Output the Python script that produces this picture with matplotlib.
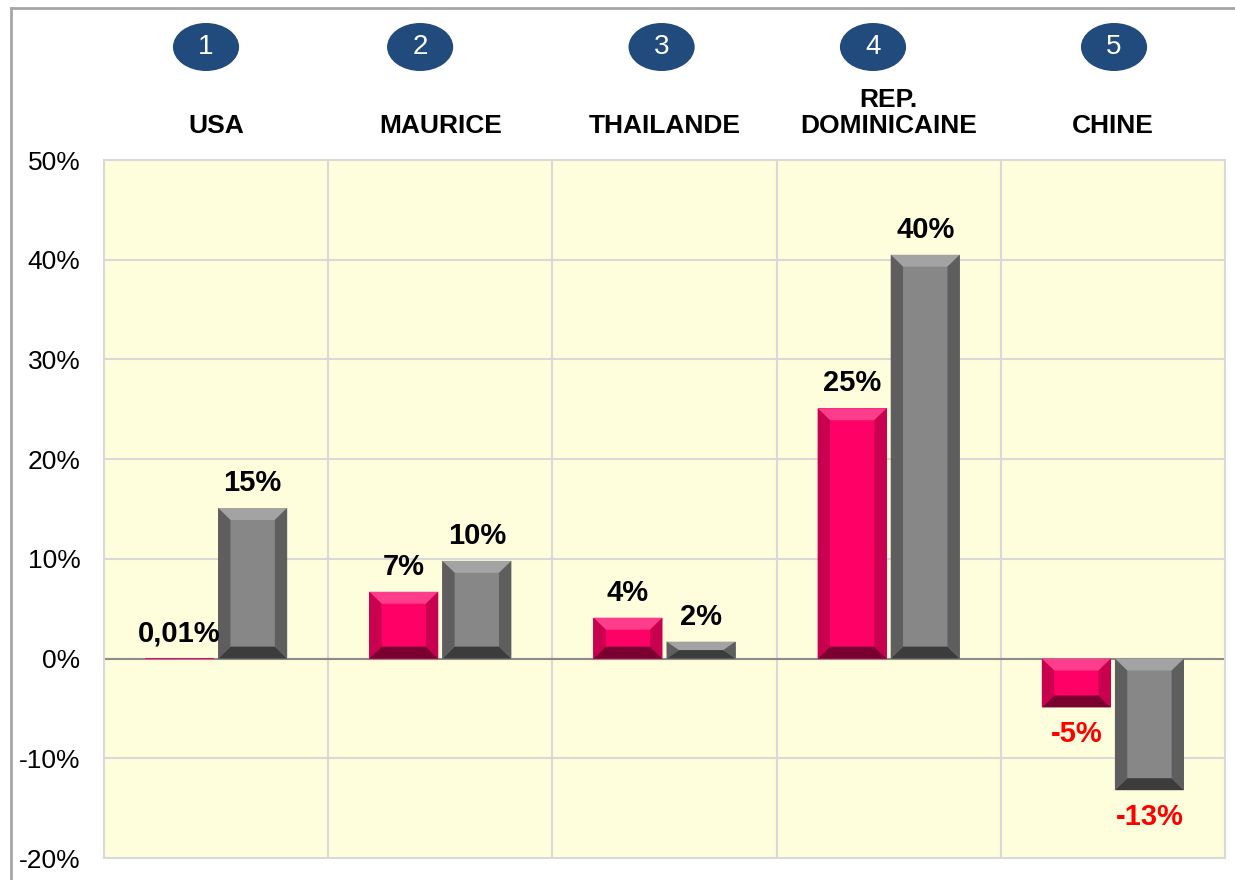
#!/usr/bin/env python3

import numpy as np
from matplotlib import pyplot as plt
from matplotlib.patches import Polygon, Ellipse
from matplotlib.transforms import blended_transform_factory
from matplotlib.ticker import FuncFormatter

plt.rcParams['font.family'] = ['Liberation Sans', 'DejaVu Sans']

# data
ranks = ['1', '2', '3', '4', '5']
countries = ['USA', 'MAURICE', 'THAILANDE', 'REP.\nDOMINICAINE', 'CHINE']
serie_pink = [0.01, 6.7, 4.1, 25.1, -4.9]
serie_gray = [15.1, 9.8, 1.7, 40.5, -13.2]
labels_pink = ['0,01%', '7%', '4%', '25%', '-5%']
labels_gray = ['15%', '10%', '2%', '40%', '-13%']

# face, top, bottom, sides
pink_cols = ('#ff0066', '#ff3d8b', '#7a0030', '#c8004f')
gray_cols = ('#878787', '#a3a3a3', '#3c3c3c', '#5e5e5e')

# the rank badges are not exactly centred on their columns
badge_shift = [-0.045, -0.09, -0.013, -0.07, 0.005]


def bevel(ax, bar, cols, bx=0.055, by=1.2):
    x0 = bar.get_x()
    w = bar.get_width()
    lo = min(bar.get_y(), bar.get_y() + bar.get_height())
    hi = max(bar.get_y(), bar.get_y() + bar.get_height())
    bx = min(bx, w / 2)
    by = min(by, (hi - lo) / 2)
    x1 = x0 + w
    polys = [
        ([(x0, hi), (x1, hi), (x1 - bx, hi - by), (x0 + bx, hi - by)], cols[1]),
        ([(x0, lo), (x1, lo), (x1 - bx, lo + by), (x0 + bx, lo + by)], cols[2]),
        ([(x0, lo), (x0 + bx, lo + by), (x0 + bx, hi - by), (x0, hi)], cols[3]),
        ([(x1, lo), (x1 - bx, lo + by), (x1 - bx, hi - by), (x1, hi)], cols[3]),
    ]
    for pts, c in polys:
        ax.add_patch(Polygon(pts, closed=True, facecolor=c, edgecolor='none', zorder=3))


fig = plt.figure(figsize=(12.35, 8.8), dpi=100)
ax = fig.add_axes([104 / 1235, 22 / 880, 1121 / 1235, 698 / 880])
ax.set_facecolor('#fefedc')

x = np.arange(len(countries))
w = 0.308
off = (w + 0.018) / 2
bars_p = ax.bar(x - off, serie_pink, w, color=pink_cols[0], zorder=2)
bars_g = ax.bar(x + off, serie_gray, w, color=gray_cols[0], zorder=2)
for b in bars_p:
    bevel(ax, b, pink_cols)
for b in bars_g:
    bevel(ax, b, gray_cols)

ax.set_xlim(-0.5, len(countries) - 0.5)
ax.set_ylim(-20, 50)
ax.set_yticks(np.arange(-20, 51, 10))
ax.yaxis.set_major_formatter(FuncFormatter(lambda v, p: '%d%%' % v))
ax.tick_params(axis='y', length=0, pad=17, labelsize=19)
ax.set_xticks([])
for v in np.arange(-10, 50, 10):
    ax.axhline(v, color='#d9d9d9', lw=1.5, zorder=0)
for xb in x[:-1] + 0.5:
    ax.axvline(xb, color='#d9d9d9', lw=1.5, zorder=0)
ax.axhline(0, color='#8c8c8c', lw=1.5, zorder=1)
for s in ax.spines.values():
    s.set_color('#d9d9d9')
    s.set_linewidth(1.5)

# value labels
for bars, labs in [(bars_p, labels_pink), (bars_g, labels_gray)]:
    for b, lab in zip(bars, labs):
        h = b.get_height()
        cx = b.get_x() + b.get_width() / 2
        if h >= 0:
            ax.annotate(lab, (cx, h), xytext=(0, 8), textcoords='offset points',
                        ha='center', va='bottom', fontsize=21, fontweight='bold',
                        color='black')
        else:
            ax.annotate(lab, (cx, h), xytext=(0, -9), textcoords='offset points',
                        ha='center', va='top', fontsize=21, fontweight='bold',
                        color='#ff0000')

# headers: numbered ellipses and country names
tr = blended_transform_factory(ax.transData, ax.transAxes)
for i, (r, name) in enumerate(zip(ranks, countries)):
    bxc = i + badge_shift[i]
    ax.add_patch(Ellipse((bxc, 1 + 113 / 698), 0.295, 48 / 698, transform=tr,
                         facecolor='#214a7d', edgecolor='none', clip_on=False))
    ax.text(bxc, 1 + 113 / 698, r, transform=tr, ha='center', va='center',
            color='white', fontsize=20)
    ax.text(i, 1 + 22 / 698, name, transform=tr, ha='center', va='bottom',
            fontsize=19, fontweight='bold', linespacing=1.1)

# outer chart frame
fig.add_artist(plt.Line2D([11 / 1235, 11 / 1235], [0, 1 - 8 / 880],
                          color='#a6a6a6', lw=2, transform=fig.transFigure))
fig.add_artist(plt.Line2D([11 / 1235, 1], [1 - 8 / 880, 1 - 8 / 880],
                          color='#a6a6a6', lw=2, transform=fig.transFigure))

fig.savefig('out.png', dpi=100)
plt.close()
